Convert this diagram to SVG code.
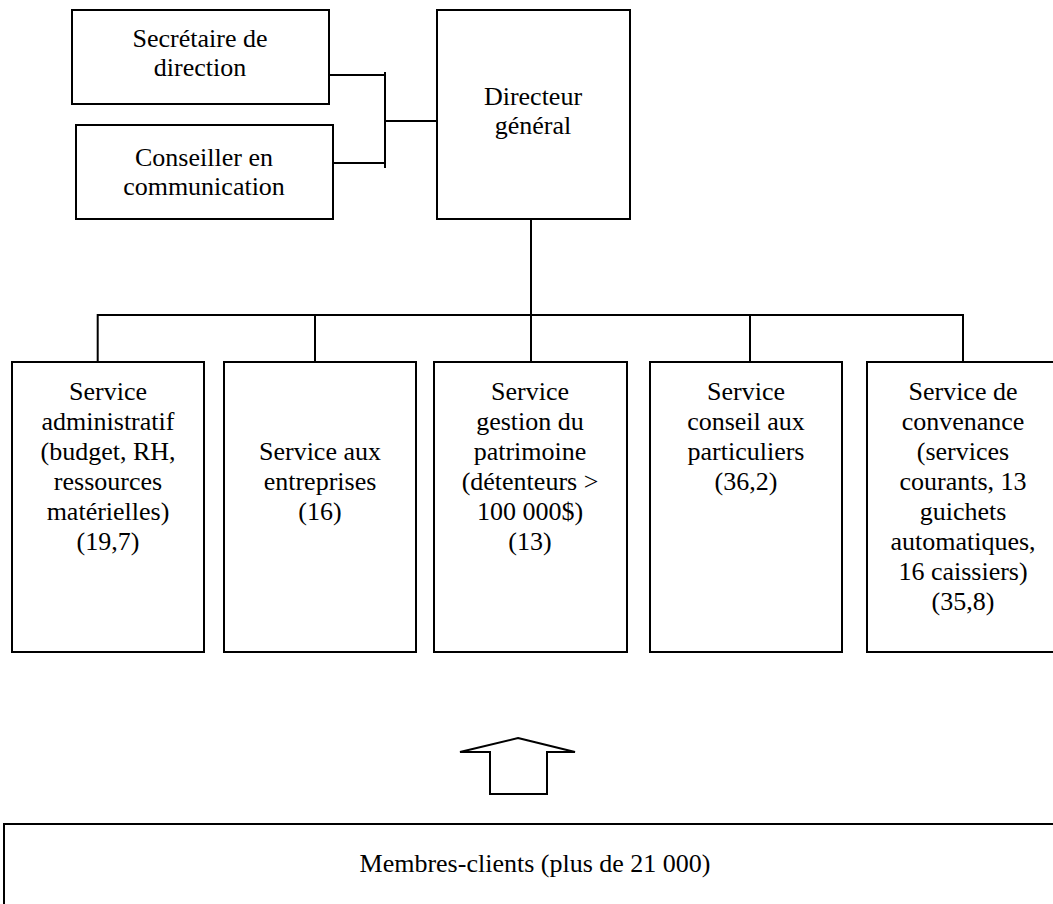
<svg xmlns="http://www.w3.org/2000/svg" width="1053" height="904" viewBox="0 0 1053 904">
<style>
.box{fill:#fff;stroke:#000;stroke-width:2}
.ln{fill:none;stroke:#000;stroke-width:2}
text{font-family:"Liberation Serif","Times New Roman",serif;font-size:26px;fill:#000;text-anchor:middle}
</style>
<rect width="1053" height="904" fill="#fff"/>
<g id="connectors">
<path class="ln" d="M329 75H385M333 163H385M385 72V168M385 121H437"/>
<path class="ln" d="M531 219V315M97.7 315H963M97.7 314V363M315 314V363M531 314V363M750 314V363M963 314V363"/>
<polygon class="ln" points="518,738 575,752 547,752 547,794 490,794 490,752 460,752"/>
</g>
<g id="secretaire"><rect class="box" x="72" y="10" width="257" height="94"/><text x="200" y="47">Secrétaire de</text><text x="200" y="76">direction</text></g>
<g id="conseiller"><rect class="box" x="76" y="125" width="257" height="94"/><text x="204" y="166">Conseiller en</text><text x="204" y="195">communication</text></g>
<g id="directeur"><rect class="box" x="437" y="10" width="193" height="209"/><text x="533" y="105">Directeur</text><text x="533" y="134">général</text></g>
<g id="administratif"><rect class="box" x="12" y="362" width="192" height="290"/>
<text x="108" y="400">Service</text><text x="108" y="430">administratif</text><text x="108" y="460">(budget, RH,</text><text x="108" y="490">ressources</text><text x="108" y="520">matérielles)</text><text x="108" y="550">(19,7)</text></g>
<g id="entreprises"><rect class="box" x="224" y="362" width="192" height="290"/>
<text x="320" y="460">Service aux</text><text x="320" y="490">entreprises</text><text x="320" y="520">(16)</text></g>
<g id="patrimoine"><rect class="box" x="434" y="362" width="193" height="290"/>
<text x="530" y="400">Service</text><text x="530" y="430">gestion du</text><text x="530" y="460">patrimoine</text><text x="530" y="490">(détenteurs &gt;</text><text x="530" y="520">100 000$)</text><text x="530" y="550">(13)</text></g>
<g id="particuliers"><rect class="box" x="650" y="362" width="192" height="290"/>
<text x="746" y="400">Service</text><text x="746" y="430">conseil aux</text><text x="746" y="460">particuliers</text><text x="746" y="490">(36,2)</text></g>
<g id="convenance"><rect class="box" x="867" y="362" width="192" height="290"/>
<text x="963" y="400">Service de</text><text x="963" y="430">convenance</text><text x="963" y="460">(services</text><text x="963" y="490">courants, 13</text><text x="963" y="520">guichets</text><text x="963" y="550">automatiques,</text><text x="963" y="580">16 caissiers)</text><text x="963" y="610">(35,8)</text></g>
<g id="membres"><rect class="box" x="4" y="824" width="1100" height="200"/><text x="535" y="872">Membres-clients (plus de 21 000)</text></g>
</svg>
